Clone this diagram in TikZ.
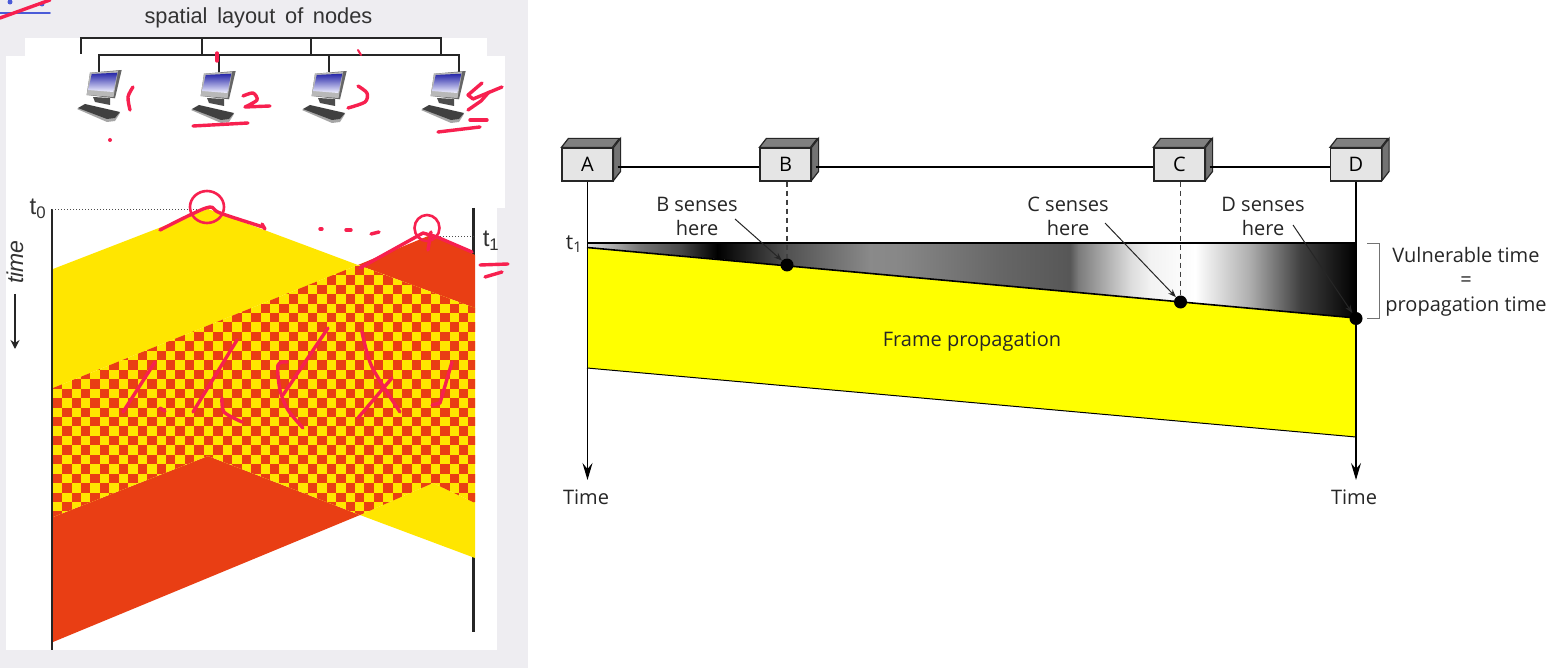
\documentclass[tikz,border=0pt]{standalone}
\usepackage{fontspec}
\setmainfont{Liberation Sans}
\newfontfamily\rf{Open Sans}
\usetikzlibrary{arrows.meta}
\definecolor{panelgray}{HTML}{EEEDF1}
\definecolor{frameyellow}{HTML}{FFE600}
\definecolor{framered}{HTML}{E93E14}
\definecolor{inkpink}{HTML}{F7204F}
\definecolor{inkblue}{HTML}{4A5BD8}
\definecolor{pureyellow}{HTML}{FFFF00}
\tikzset{
 x=1pt,y=-1pt,
 ink/.style={draw=inkpink,line width=3.4pt,line cap=round,line join=round},
 busline/.style={draw=black!85,line width=2pt},
 axisline/.style={draw=black!85,line width=2.8pt},
 lefttext/.style={inner sep=0pt,text=black!80},
 righttext/.style={inner sep=0pt,text=black!85,font=\rf\fontsize{20}{24}\selectfont,align=center},
 stationbox/.style={draw=black!85,line width=1.2pt,fill=black!10,minimum width=51pt,minimum height=33pt,inner sep=0pt,font=\rf\fontsize{20}{20}\selectfont},
 timeaxis/.style={draw=black,line width=1.2pt,-{Stealth[length=17pt,width=10pt,inset=6pt]}},
 sensedash/.style={draw=black!75,line width=1.5pt,dash pattern=on 5pt off 4pt},
 sensearrow/.style={draw=black!85,line width=1pt,-{Stealth[length=8pt,width=6pt]}},
 sensedot/.style={circle,fill=black,inner sep=0pt,minimum size=13pt},
 comp/.pic={
  \fill[black!60] (13,2.7) -- (44.7,0) -- (38,28.3) -- (9.7,25) -- cycle;
  \fill[black!28] (13,2.7) -- (41,1) -- (36.5,27) -- (9.7,25) -- cycle;
  \shade[top color=blue!60!black!85,bottom color=blue!5!white] (14.7,4) -- (40.3,2.7) -- (36.3,22) -- (11.3,20) -- cycle;
  \fill[black!70] (16,27) -- (33,28) -- (33,35) -- (18,32) -- cycle;
  \fill[black!35] (0,39) -- (8,35) -- (43,43) -- (38,51) -- (30,52) -- cycle;
  \fill[black!75] (1,38) -- (8,34) -- (43,42) -- (38,48) -- (30,49) -- cycle;
 }
}
\begin{document}
\begin{tikzpicture}
\useasboundingbox (0,0) rectangle (1563,668);
\fill[white] (0,0) rectangle (1563,668);
% left panel
\fill[panelgray] (0,0) rectangle (528,668);
\fill[white] (25,38) rectangle (487,60);
\fill[white] (6,56) rectangle (505,208);
\fill[white] (6,208) rectangle (497,650);
\node[lefttext,font=\fontsize{21.8}{22}\selectfont] (title) at (258.5,18) {spatial\, layout\, of\, nodes};
% bus
\draw[busline] (81,54) -- (81,38.5) -- (441,38.5) -- (441,55);
\draw[busline] (202,38.5) -- (202,55);
\draw[busline] (311,38.5) -- (311,55);
\draw[busline] (99,72) -- (99,55.5) -- (459,55.5) -- (459,72);
\draw[busline] (219,55.5) -- (219,72);
\draw[busline] (329,55.5) -- (329,72);
\pic at (77,70) {comp};
\pic at (191,71) {comp};
\pic at (302,71) {comp};
\pic at (421,71) {comp};
% axes lie under the frames
\draw[axisline] (52,209) -- (52,650);
\draw[axisline] (473.5,208) -- (473.5,632);
% frames
\fill[frameyellow] (53,269) -- (208,209) -- (358,265) -- (53,388) -- cycle;
\fill[framered] (358,265) -- (433,234) -- (475,255) -- (475,308) -- cycle;
\fill[framered] (53,517) -- (208,456) -- (360,515) -- (53,642) -- cycle;
\fill[frameyellow] (360,515) -- (433,483) -- (475,503) -- (475,558) -- cycle;
\begin{scope}
\clip (53,388) -- (358,265) -- (475,308) -- (475,503) -- (433,483) -- (360,515) -- (208,456) -- (53,517) -- cycle;
\fill[frameyellow] (40,250) rectangle (480,530);
\foreach \i in {0,...,44}{
 \foreach \j in {-16,...,12}{
  \pgfmathparse{int(mod(\i+\j+100,2))}
  \ifnum\pgfmathresult=1
   \fill[framered] ({52.6+9.45*\i},{407.5+9.45*\j}) rectangle ++(9.45,9.45);
  \fi
 }
}
\end{scope}
\draw[black!70,line width=1pt,dotted] (52,209.5) -- (208,209.5);
\draw[black!70,line width=1pt,dotted] (437,237) -- (474,237);
\node[lefttext,font=\fontsize{24}{24}\selectfont] (tzero) at (38,209) {t\textsubscript{0}};
\node[lefttext,font=\fontsize{24}{24}\selectfont] (tone) at (491,241) {t\textsubscript{1}};
\node[lefttext,rotate=90,font=\itshape\fontsize{23}{23}\selectfont] (timeleft) at (15,262) {time};
\coordinate (arrowtop) at (15,294);
\coordinate (arrowend) at (15,349);
\draw[black!85,line width=1.4pt,-{Stealth[length=9pt,width=9pt]}] (arrowtop) -- (arrowend);
% handwriting
\draw[ink,inkblue,line width=1.8pt] (0,13) -- (50,13);
\fill[inkblue] (10,2) circle (2.5pt) (42,4) circle (2.5pt);
\draw[ink] (0,18) -- (50,0);
\draw[ink] (217,53) -- (217,61);
\draw[ink,line width=2pt] (358,50) -- (361,55);
\draw[ink] plot[smooth] coordinates {(133,87) (128,97) (130,110)};
\draw[ink] plot[smooth] coordinates {(243,96) (253,93) (257,100) (245,107)} -- (270,106);
\draw[ink] (193,126) -- (248,123);
\draw[ink] plot[smooth] coordinates {(358,86) (367,93) (365,102) (348,108)};
\draw[ink] (482,83) -- (468,95) -- (473,99) -- (502,87);
\draw[ink] (489,92) -- (481,101) -- (468,110);
\draw[ink] (470,120) -- (487,120);
\draw[ink] (438,132) -- (480,127);
\fill[inkpink] (110,140) circle (2pt);
\draw[ink,line width=2.6pt] (207,207) ellipse [x radius=17,y radius=16];
\draw[ink] plot[smooth] coordinates {(160,230) (190,215) (210,207) (220,213) (263,227)};
\draw[ink] (262,224) -- (265,229);
\draw[ink] (320,229) -- (322,229);
\draw[ink] (346,230) -- (351,230);
\draw[ink] (371,234) -- (379,232);
\draw[ink,line width=2.6pt] (427,228) ellipse [x radius=12.5,y radius=13];
\draw[ink] plot coordinates {(360,268) (423,233) (437,237) (472,252)};
\draw[ink] (431,232) -- (428,250);
\draw[ink] (480,265) -- (508,264);
\draw[ink] (485,277) -- (502,272);
\draw[ink] (155,362) -- (123,412);
\draw[ink] (237,340) -- (193,412);
\draw[ink] (160,408) -- (165,411);
\draw[ink] plot[smooth] coordinates {(222,398) (224,412) (242,422)};
\draw[ink] (328,328) -- (283,395);
\draw[ink] plot[smooth] coordinates {(287,362) (278,365) (280,390) (288,410) (303,428)};
\draw[ink] plot[smooth] coordinates {(362,332) (372,367) (400,412)};
\draw[ink] (392,378) -- (358,418);
\draw[ink] plot coordinates {(452,362) (440,403) (432,405)};
% right diagram: wedge and frame
\begin{scope}
\clip (587,243) -- (1356,243) -- (1356,318) -- (587,247) -- cycle;
\foreach \xa/\ca/\xb/\cb in {
 587/88/640/45, 640/45/680/28, 680/28/717/0, 717/0/787/32, 787/32/870/54, 870/54/900/53,
 900/53/1000/40, 1000/40/1070/34, 1070/34/1078/48, 1078/48/1130/86, 1130/86/1150/95,
 1150/95/1195/100, 1195/100/1250/68, 1250/68/1300/25, 1300/25/1356/0}{
 \shade[left color=white!\ca!black,right color=white!\cb!black] (\xa,240) rectangle (\xb+.4,320);
}
\end{scope}
\fill[pureyellow] (587,247.5) -- (1356,318) -- (1356,437) -- (587,368) -- cycle;
\draw[black,line width=1.6pt] (587,247.5) -- (1356,318);
\draw[black,line width=1pt] (587,368) -- (1356,437);
\draw[black,line width=2.4pt] (587,243) -- (1356,243);
% stations
\node[stationbox] (A) at (587.5,164.5) {A};
\node[stationbox] (B) at (785.5,164.5) {B};
\node[stationbox] (C) at (1179.5,164.5) {C};
\node[stationbox] (D) at (1356,164.5) {D};
\foreach \s in {A,B,C,D}{
 \filldraw[draw=black!85,line width=1.2pt,fill=black!50] (\s.north west) -- ++(7,-9) -- ++(51,0) -- ++(-7,9) -- cycle;
 \filldraw[draw=black!85,line width=1.2pt,fill=black!55] (\s.north east) -- ++(7,-9) -- ++(0,33) -- ++(-7,9) -- cycle;
}
\draw[black,line width=2.6pt] ([xshift=4pt,yshift=-2.5pt]A.east) -- ([yshift=-2.5pt]B.west);
\draw[black,line width=2.6pt] ([xshift=4pt,yshift=-2.5pt]B.east) -- ([yshift=-2.5pt]C.west);
\draw[black,line width=2.6pt] ([xshift=4pt,yshift=-2.5pt]C.east) -- ([yshift=-2.5pt]D.west);
\coordinate (Aend) at (587.5,480);
\coordinate (Dend) at (1356,480);
\draw[timeaxis] (A.south) -- (Aend);
\draw[timeaxis] (D.south) -- (Dend);
\node[sensedot] (dotB) at (787,265) {};
\node[sensedot] (dotC) at (1180.5,302) {};
\node[sensedot] (dotD) at (1356,318.5) {};
\draw[sensedash] (B.south -| dotB) -- (dotB);
\draw[sensedash] (C.south -| dotC) -- (dotC);
\node[righttext] (lblB) at (697,216) {B senses\\here};
\node[righttext] (lblC) at (1068,216) {C senses\\here};
\node[righttext] (lblD) at (1263,216) {D senses\\here};
\coordinate (startB) at (735,219);
\coordinate (startC) at (1105,223);
\coordinate (startD) at (1293,225);
\draw[sensearrow] (startB) -- (dotB);
\draw[sensearrow] (startC) -- (dotC);
\draw[sensearrow] (startD) -- (dotD);
\node[righttext] (prop) at (972,342) {Frame propagation};
\node[righttext] (tA) at (586,497) {Time};
\node[righttext] (tD) at (1354,497) {Time};
\node[righttext,font=\rf\fontsize{21}{21}\selectfont] (tonelabel) at (574,244) {t\textsubscript{1}};
\draw[black!55,line width=1pt] (1367,243.5) -- (1379,243.5) -- (1379,318) -- (1367,318);
\node[righttext] (v1) at (1466,255) {Vulnerable time};
\node[righttext] (v2) at (1466,282) {=};
\node[righttext] (v3) at (1466,307) {propagation time};
\end{tikzpicture}
\end{document}
